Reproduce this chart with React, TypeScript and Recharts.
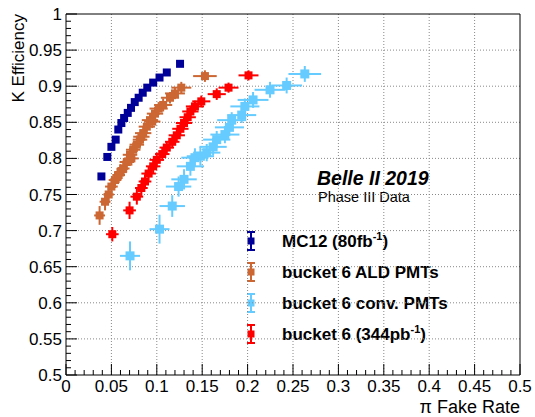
import React from 'react';
import { ScatterChart, Scatter, XAxis, YAxis, ErrorBar, ReferenceLine } from 'recharts';

const FONT = '"Liberation Sans", Arial, Helvetica, sans-serif';

const xMajor = [0, 0.05, 0.1, 0.15, 0.2, 0.25, 0.3, 0.35, 0.4, 0.45, 0.5];
const yMajor = [0.5, 0.55, 0.6, 0.65, 0.7, 0.75, 0.8, 0.85, 0.9, 0.95, 1];
const xTicks = Array.from({ length: 51 }, (_, i) => i / 100);
const yTicks = Array.from({ length: 51 }, (_, i) => 0.5 + i / 100);

// MC12 (80fb-1)
const mcX = [0.039, 0.0455, 0.05, 0.0547, 0.0576, 0.061, 0.064, 0.068, 0.0716, 0.0757, 0.08, 0.0845, 0.0895, 0.096, 0.103, 0.111, 0.1256];
const mcY = [0.775, 0.802, 0.816, 0.826, 0.84, 0.849, 0.856, 0.863, 0.87, 0.878, 0.884, 0.891, 0.898, 0.905, 0.912, 0.919, 0.931];
const mcEx = [0.001, 0.001, 0.001, 0.001, 0.001, 0.001, 0.001, 0.001, 0.001, 0.001, 0.001, 0.001, 0.001, 0.001, 0.001, 0.001, 0.001];
const mcEy = [0.002, 0.002, 0.002, 0.002, 0.002, 0.002, 0.002, 0.002, 0.002, 0.002, 0.002, 0.002, 0.002, 0.002, 0.002, 0.002, 0.002];

// bucket 6 ALD PMTs
const aldX = [0.037, 0.043, 0.047, 0.05, 0.054, 0.058, 0.06, 0.063, 0.067, 0.0705, 0.072, 0.074, 0.078, 0.0815, 0.083, 0.085, 0.089, 0.0925, 0.095, 0.098, 0.102, 0.107, 0.1145, 0.12, 0.127, 0.153];
const aldY = [0.721, 0.74, 0.75, 0.761, 0.77, 0.777, 0.781, 0.786, 0.795, 0.805, 0.8, 0.812, 0.819, 0.826, 0.83, 0.835, 0.844, 0.853, 0.851, 0.862, 0.869, 0.874, 0.884, 0.89, 0.898, 0.914];
const aldEx = [0.006, 0.006, 0.006, 0.007, 0.007, 0.007, 0.007, 0.007, 0.008, 0.008, 0.008, 0.008, 0.008, 0.008, 0.009, 0.009, 0.009, 0.009, 0.009, 0.009, 0.01, 0.01, 0.01, 0.011, 0.011, 0.013];
const aldEy = [0.013, 0.012, 0.012, 0.012, 0.011, 0.011, 0.011, 0.011, 0.011, 0.01, 0.01, 0.01, 0.01, 0.01, 0.01, 0.01, 0.009, 0.009, 0.009, 0.009, 0.009, 0.009, 0.008, 0.008, 0.008, 0.008];

// bucket 6 conv. PMTs
const convX = [0.0705, 0.103, 0.117, 0.124, 0.13, 0.137, 0.142, 0.148, 0.155, 0.162, 0.166, 0.175, 0.18, 0.1825, 0.1935, 0.197, 0.206, 0.2247, 0.243, 0.263];
const convY = [0.665, 0.702, 0.734, 0.761, 0.771, 0.789, 0.801, 0.803, 0.808, 0.816, 0.826, 0.833, 0.843, 0.853, 0.86, 0.872, 0.881, 0.895, 0.901, 0.917];
const convEx = [0.011, 0.011, 0.014, 0.014, 0.014, 0.015, 0.015, 0.015, 0.015, 0.015, 0.015, 0.016, 0.016, 0.016, 0.016, 0.016, 0.017, 0.017, 0.017, 0.018];
const convEy = [0.02, 0.02, 0.015, 0.014, 0.014, 0.013, 0.013, 0.013, 0.012, 0.012, 0.012, 0.012, 0.012, 0.011, 0.011, 0.011, 0.011, 0.011, 0.011, 0.011];

// bucket 6 (344pb-1)
const redX = [0.051, 0.07, 0.078, 0.083, 0.087, 0.091, 0.096, 0.1, 0.106, 0.111, 0.117, 0.122, 0.126, 0.13, 0.134, 0.137, 0.142, 0.149, 0.166, 0.179, 0.201];
const redY = [0.695, 0.728, 0.747, 0.759, 0.768, 0.779, 0.789, 0.798, 0.806, 0.815, 0.823, 0.832, 0.841, 0.849, 0.857, 0.865, 0.872, 0.879, 0.889, 0.898, 0.915];
const redEx = [0.007, 0.007, 0.007, 0.007, 0.007, 0.008, 0.008, 0.008, 0.008, 0.008, 0.008, 0.009, 0.009, 0.009, 0.009, 0.009, 0.01, 0.01, 0.01, 0.011, 0.011];
const redEy = [0.01, 0.012, 0.011, 0.011, 0.01, 0.01, 0.01, 0.01, 0.009, 0.009, 0.009, 0.009, 0.009, 0.008, 0.008, 0.008, 0.008, 0.008, 0.008, 0.007, 0.007];

const zip = (x: number[], y: number[], ex: number[], ey: number[]) =>
  x.map((v, i) => ({ x: v, y: y[i], ex: ex[i], ey: ey[i] }));

const series = [
  { name: 'MC12 (80fb', sup: '-1', tail: ')', color: '#000099', size: 8, data: zip(mcX, mcY, mcEx, mcEy) },
  { name: 'bucket 6 ALD PMTs', sup: '', tail: '', color: '#cc6633', size: 8, data: zip(aldX, aldY, aldEx, aldEy) },
  { name: 'bucket 6 conv. PMTs', sup: '', tail: '', color: '#66ccff', size: 9, data: zip(convX, convY, convEx, convEy) },
  { name: 'bucket 6 (344pb', sup: '-1', tail: ')', color: '#ff0000', size: 8, data: zip(redX, redY, redEx, redEy) },
];

const isMajor = (v: number) => Math.abs(v * 20 - Math.round(v * 20)) < 1e-6;
const fmt = (v: number) => String(parseFloat(v.toFixed(2)));

function XTick({ x, y, payload }: any) {
  const v = payload.value;
  const major = isMajor(v);
  return (
    <g>
      <line x1={x} x2={x} y1={y} y2={y - (major ? 11 : 5)} stroke="#000" />
      {major && (
        <text x={x} y={y + 17} textAnchor="middle" fontSize={17} fontFamily={FONT} fill="#000">
          {fmt(v)}
        </text>
      )}
    </g>
  );
}

function YTick({ x, y, payload }: any) {
  const v = payload.value;
  const major = isMajor(v);
  return (
    <g>
      <line x1={x} x2={x + (major ? 11 : 5)} y1={y} y2={y} stroke="#000" />
      {major && (
        <text x={x - 4} y={y + 6} textAnchor="end" fontSize={17} fontFamily={FONT} fill="#000">
          {fmt(v)}
        </text>
      )}
    </g>
  );
}

function Annotations() {
  return (
    <g fontFamily={FONT} fill="#000">
      <text x={24} y={14} transform="rotate(-90 24 14)" textAnchor="end" fontSize={17}>
        K Efficiency
      </text>
      <text x={520} y={413} textAnchor="end" fontSize={18}>
        π Fake Rate
      </text>
      <text x={317} y={185} fontSize={19.5} fontWeight="bold" fontStyle="italic">
        Belle II 2019
      </text>
      <text x={318} y={202} fontSize={14.5}>
        Phase III Data
      </text>
      {series.map((s, i) => {
        const cy = 241 + i * 31;
        return (
          <g key={s.name}>
            <line x1={251} x2={251} y1={cy - 9} y2={cy + 9} stroke={s.color} strokeWidth={2} />
            <line x1={247} x2={255} y1={cy - 9} y2={cy - 9} stroke={s.color} strokeWidth={2} />
            <line x1={247} x2={255} y1={cy + 9} y2={cy + 9} stroke={s.color} strokeWidth={2} />
            <rect x={247.5} y={cy - 3.5} width={7} height={7} fill={s.color} />
            <text x={282} y={cy + 6} fontSize={17} fontWeight="bold">
              {s.name}
              {s.sup && (
                <tspan fontSize={11} dy={-7}>
                  {s.sup}
                </tspan>
              )}
              {s.tail && <tspan dy={7}>{s.tail}</tspan>}
            </text>
          </g>
        );
      })}
    </g>
  );
}

export default function App() {
  return (
    <div style={{ position: 'absolute', left: 0, top: 0, background: '#fff' }}>
      <ScatterChart width={535} height={417} margin={{ top: 14, right: 15, left: 0, bottom: 0 }}>
        <XAxis
          type="number"
          dataKey="x"
          domain={[0, 0.5]}
          ticks={xTicks}
          interval={0}
          height={42}
          tickLine={false}
          tickSize={0}
          tickMargin={0}
          tick={<XTick />}
          axisLine={{ stroke: '#000' }}
        />
        <YAxis
          type="number"
          dataKey="y"
          domain={[0.5, 1]}
          ticks={yTicks}
          interval={0}
          width={66}
          tickLine={false}
          tickSize={0}
          tickMargin={0}
          tick={<YTick />}
          axisLine={{ stroke: '#000' }}
        />
        {xMajor.slice(1, -1).map((v) => (
          <ReferenceLine key={'gx' + v} x={v} stroke="#888" strokeDasharray="1 2" />
        ))}
        {yMajor.slice(1, -1).map((v) => (
          <ReferenceLine key={'gy' + v} y={v} stroke="#888" strokeDasharray="1 2" />
        ))}
        <ReferenceLine x={0.5} stroke="#000" />
        <ReferenceLine y={1} stroke="#000" />
        {series.map((s) => (
          <Scatter
            key={s.name}
            data={s.data}
            fill={s.color}
            isAnimationActive={false}
            shape={(p: any) => (
              <rect x={p.cx - s.size / 2} y={p.cy - s.size / 2} width={s.size} height={s.size} fill={s.color} />
            )}
          >
            <ErrorBar dataKey="ex" direction="x" width={0} stroke={s.color} strokeWidth={2} isAnimationActive={false} />
            <ErrorBar dataKey="ey" direction="y" width={0} stroke={s.color} strokeWidth={2} isAnimationActive={false} />
          </Scatter>
        ))}
        <Annotations />
      </ScatterChart>
    </div>
  );
}
